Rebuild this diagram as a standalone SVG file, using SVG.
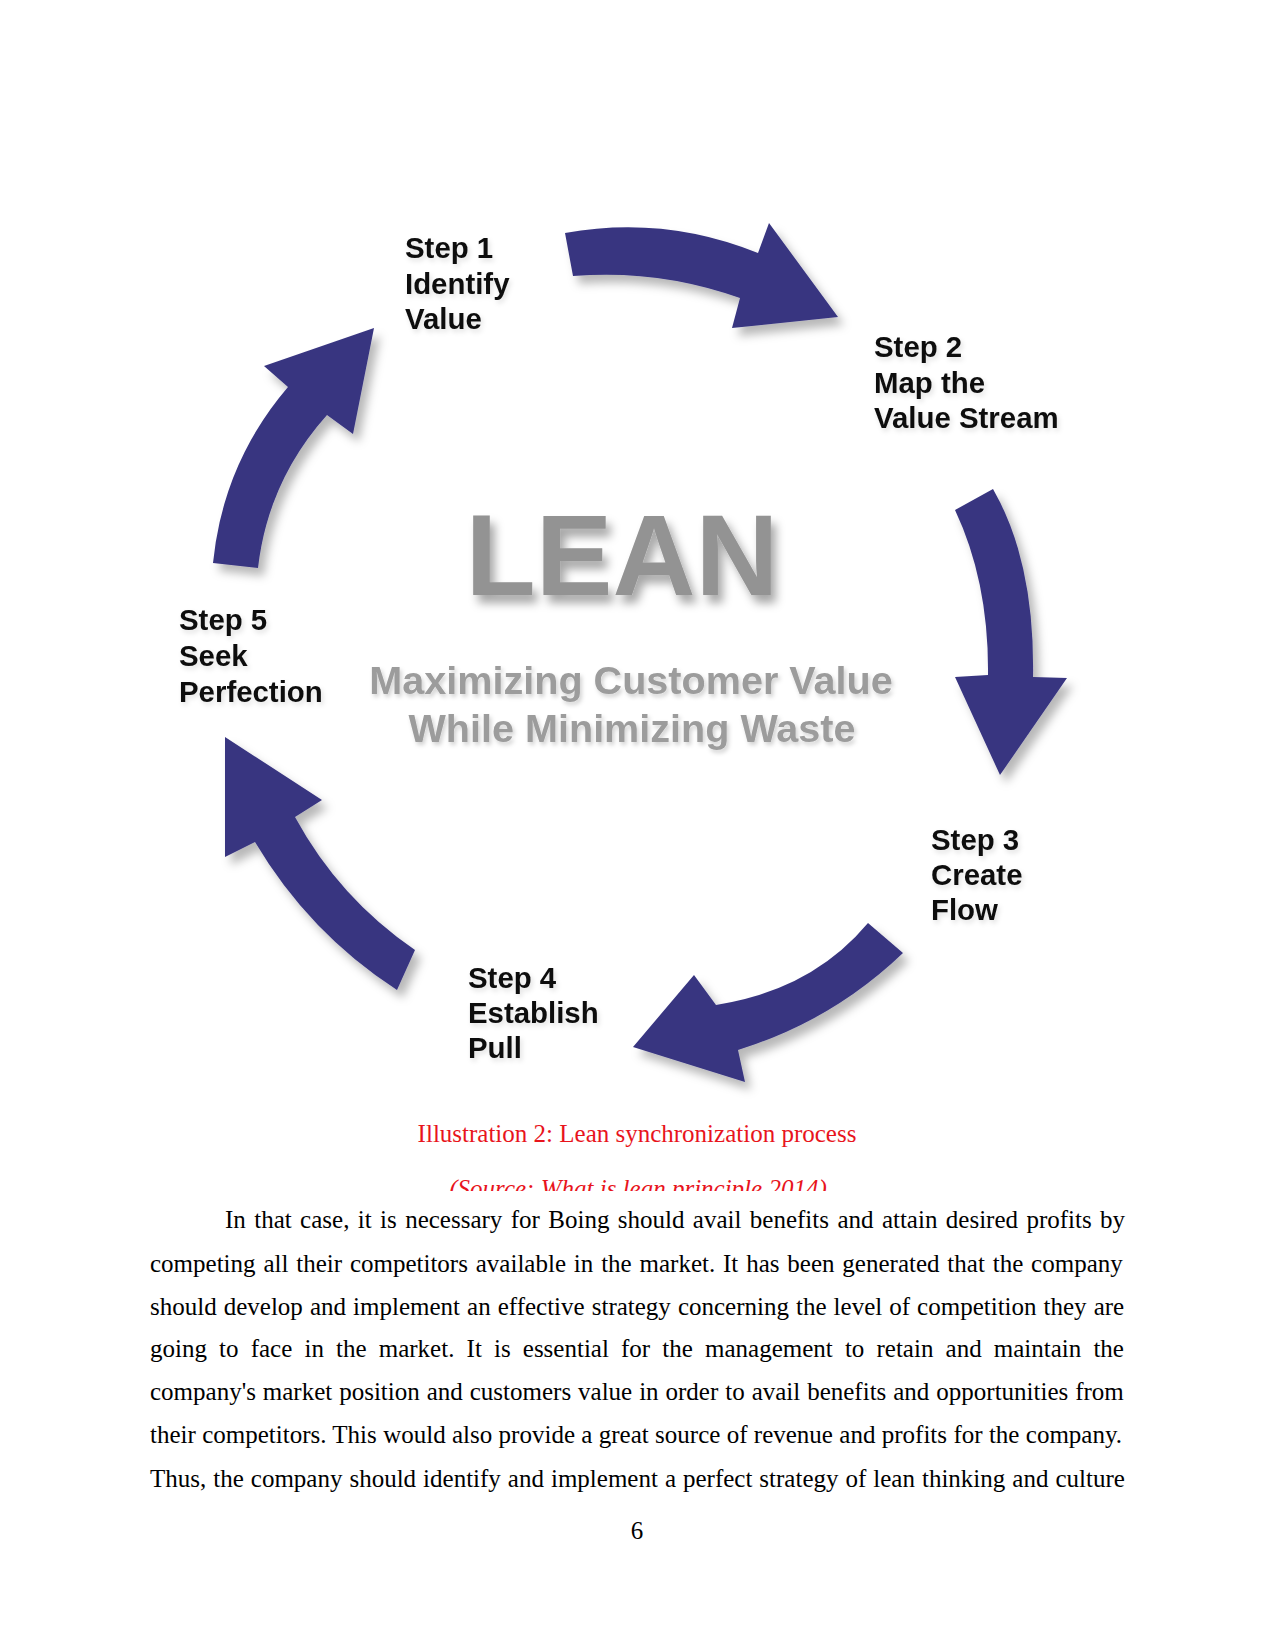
<svg xmlns="http://www.w3.org/2000/svg" width="1275" height="1650" viewBox="0 0 1275 1650">
  <defs>
    <filter id="arrowShadow" x="-20%" y="-20%" width="150%" height="150%">
      <feDropShadow dx="6" dy="8" stdDeviation="5" flood-color="#000" flood-opacity="0.28"/>
    </filter>
    <filter id="leanShadow" x="-10%" y="-20%" width="130%" height="160%">
      <feDropShadow dx="5" dy="8" stdDeviation="5" flood-color="#000" flood-opacity="0.35"/>
    </filter>
    <filter id="subShadow" x="-5%" y="-30%" width="110%" height="170%">
      <feDropShadow dx="2" dy="3" stdDeviation="2" flood-color="#000" flood-opacity="0.18"/>
    </filter>
    <filter id="labelHalo" x="-10%" y="-20%" width="130%" height="150%">
      <feDropShadow dx="2" dy="3" stdDeviation="2.5" flood-color="#000" flood-opacity="0.12"/>
    </filter>
    <clipPath id="srcClip">
      <rect x="0" y="1150" width="1275" height="41"/>
    </clipPath>
  </defs>
  <style>
    .arrow { fill: #383580; filter: url(#arrowShadow); }
    .label { font-family: "Liberation Sans", Arial, sans-serif; font-weight: bold; font-size: 29.4px; fill: #111; filter: url(#labelHalo); }
    .lean { font-family: "Liberation Sans", Arial, sans-serif; font-weight: bold; font-size: 115px; fill: #939393; filter: url(#leanShadow); }
    .sub { font-family: "Liberation Sans", Arial, sans-serif; font-weight: bold; font-size: 39.6px; fill: #9c9c9c; filter: url(#subShadow); }
    .caption { font-family: "Liberation Serif", "Times New Roman", serif; font-size: 25px; fill: #e8141c; }
    .body { font-family: "Liberation Serif", "Times New Roman", serif; font-size: 25px; fill: #000; }
  </style>
  <rect width="1275" height="1650" fill="#fff"/>

  <g id="connectors">
    <path id="arrow-5-1" class="arrow" d="M213,563 Q223,463 288,387 L264,366 L374,328 L353,434 L327,415 Q268,481 258,568 Z"/>
    <path id="arrow-1-2" class="arrow" d="M565,233 Q664,215 758,253 L769,223 L838,317 L732,328 L740,298 Q659,269 573,276 Z"/>
    <path id="arrow-2-3" class="arrow" d="M993,489 Q1035,562 1033,677 L1067,678 L1000,775 L955,677 L988,675 Q989,582 955,510 Z"/>
    <path id="arrow-3-4" class="arrow" d="M903,953 Q832,1021 738,1050 L745,1082 L633,1047 L694,975 L716,1005 Q812,990 868,923 Z"/>
    <path id="arrow-4-5" class="arrow" d="M397,990 Q309,933 255,842 L225,857 L225,737 L322,800 L295,817 Q339,898 415,950 Z"/>
  </g>

  <g id="center">
    <text class="lean" x="622" y="595" text-anchor="middle">LEAN</text>
    <text class="sub" x="631" y="694" text-anchor="middle">Maximizing Customer Value</text>
    <text class="sub" x="632" y="742" text-anchor="middle">While Minimizing Waste</text>
  </g>

  <g id="step1">
    <text class="label" x="405" y="258">Step 1</text>
    <text class="label" x="405" y="294">Identify</text>
    <text class="label" x="405" y="329">Value</text>
  </g>
  <g id="step2">
    <text class="label" x="874" y="357">Step 2</text>
    <text class="label" x="874" y="393">Map the</text>
    <text class="label" x="874" y="428">Value Stream</text>
  </g>
  <g id="step3">
    <text class="label" x="931" y="850">Step 3</text>
    <text class="label" x="931" y="885">Create</text>
    <text class="label" x="931" y="920">Flow</text>
  </g>
  <g id="step4">
    <text class="label" x="468" y="988">Step 4</text>
    <text class="label" x="468" y="1023">Establish</text>
    <text class="label" x="468" y="1058">Pull</text>
  </g>
  <g id="step5">
    <text class="label" x="179" y="630">Step 5</text>
    <text class="label" x="179" y="666">Seek</text>
    <text class="label" x="179" y="702">Perfection</text>
  </g>

  <g id="caption">
    <text class="caption" x="637" y="1142" text-anchor="middle">Illustration 2: Lean synchronization process</text>
    <text class="caption" x="638" y="1197" text-anchor="middle" font-style="italic" clip-path="url(#srcClip)">(Source: What is lean principle 2014)</text>
  </g>

  <g id="body-text">
    <text class="body" x="225" y="1228" word-spacing="2.15">In that case, it is necessary for Boing should avail benefits and attain desired profits by</text>
    <text class="body" x="150" y="1272" word-spacing="1.6">competing all their competitors available in the market. It has been generated that the company</text>
    <text class="body" x="150" y="1315" word-spacing="0.8">should develop and implement an effective strategy concerning the level of competition they are</text>
    <text class="body" x="150" y="1357" word-spacing="5.9">going to face in the market. It is essential for the management to retain and maintain the</text>
    <text class="body" x="150" y="1400" word-spacing="0.7">company's market position and customers value in order to avail benefits and opportunities from</text>
    <text class="body" x="150" y="1443" word-spacing="0.1">their competitors. This would also provide a great source of revenue and profits for the company.</text>
    <text class="body" x="150" y="1487" word-spacing="0.75">Thus, the company should identify and implement a perfect strategy of lean thinking and culture</text>
    <text class="body" x="637" y="1539" text-anchor="middle">6</text>
  </g>
</svg>
